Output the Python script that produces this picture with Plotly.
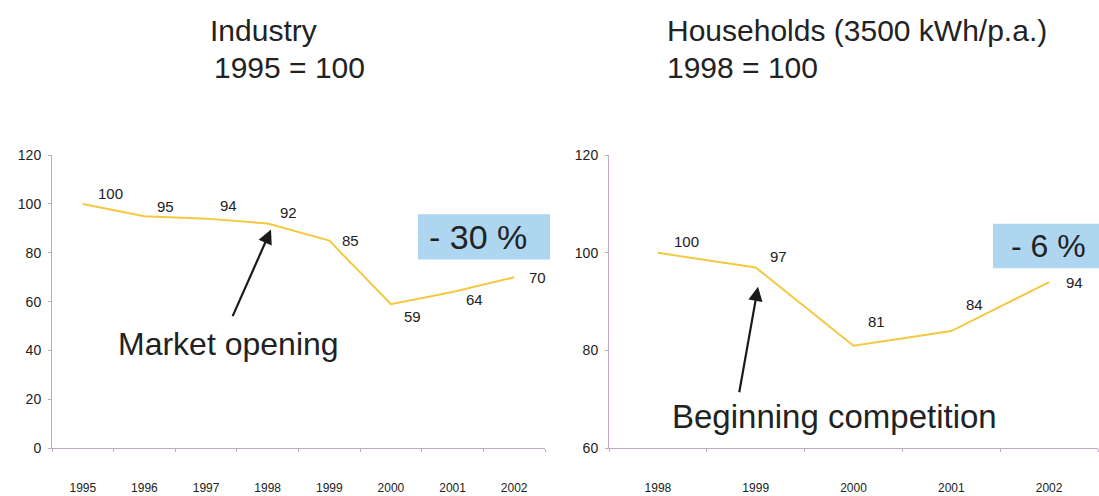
import plotly.graph_objects as go

W, H = 1099, 496

# Industry price index, 1995 = 100
ind_years = ["1995", "1996", "1997", "1998", "1999", "2000", "2001", "2002"]
ind_values = [100, 95, 94, 92, 85, 59, 64, 70]
ind_yticks = [0, 20, 40, 60, 80, 100, 120]

# Household price index (3500 kWh/p.a.), 1998 = 100
hh_years = ["1998", "1999", "2000", "2001", "2002"]
hh_values = [100, 97, 81, 84, 94]
hh_yticks = [60, 80, 100, 120]

# pixel offsets of the value labels relative to their points
ind_label_shift = [(28, 10), (21, 10), (22, 13), (21, 11),
                   (21, 0), (22, -12), (22, -8), (23, 0)]
hh_label_shift = [(29, 11), (23, 11), (23, 24), (23, 27), (25, 0)]

LINE = "#f4c940"
AXIS = "#c4a8c4"
TXT = "#222222"
FONT = "Liberation Sans, Arial, sans-serif"


def px(x):
    return x / W


def py(y):
    return 1 - y / H


fig = go.Figure()

fig.add_trace(go.Scatter(
    x=ind_years, y=ind_values, mode="lines",
    line=dict(color=LINE, width=2), xaxis="x", yaxis="y",
    showlegend=False, hoverinfo="skip"))

fig.add_trace(go.Scatter(
    x=hh_years, y=hh_values, mode="lines",
    line=dict(color=LINE, width=2), xaxis="x2", yaxis="y2",
    showlegend=False, hoverinfo="skip"))

ydom = [py(455), py(152)]

common_x = dict(type="category", showgrid=False, zeroline=False,
                showline=True, linecolor=AXIS, linewidth=1,
                ticks="outside", tickson="boundaries", ticklen=3,
                tickcolor=AXIS, ticklabelstandoff=28,
                tickfont=dict(size=12, color=TXT, family=FONT))
common_y = dict(showgrid=False, zeroline=False, showline=True,
                linecolor=AXIS, linewidth=1, ticks="outside", ticklen=3,
                tickcolor=AXIS, ticklabelstandoff=4,
                tickfont=dict(size=14, color=TXT, family=FONT))

fig.update_layout(
    width=W, height=H,
    margin=dict(l=0, r=0, t=0, b=0),
    paper_bgcolor="white", plot_bgcolor="white",
    font=dict(family=FONT, color=TXT),
    xaxis=dict(common_x, domain=[px(52), px(545)], range=[-0.5, 7.5],
               anchor="y"),
    yaxis=dict(common_y, domain=ydom, range=[0, 120],
               tickvals=ind_yticks, anchor="x"),
    xaxis2=dict(common_x, domain=[px(609), px(1098)], range=[-0.5, 4.5],
                anchor="y2"),
    yaxis2=dict(common_y, domain=ydom, range=[60, 120],
                tickvals=hh_yticks, anchor="x2"),
)

# value labels next to each point (category axes take the serial index)
for ys, shifts, xr, yr in [
        (ind_values, ind_label_shift, "x", "y"),
        (hh_values, hh_label_shift, "x2", "y2")]:
    for i, (yv, (dx, dy)) in enumerate(zip(ys, shifts)):
        fig.add_annotation(x=i, y=yv, xref=xr, yref=yr, text=str(yv),
                           xshift=dx, yshift=dy, showarrow=False,
                           xanchor="center", yanchor="middle",
                           font=dict(size=15, color=TXT, family=FONT))

# highlighted change boxes
fig.add_shape(type="rect", xref="paper", yref="paper",
              x0=px(418), x1=px(550), y0=py(260), y1=py(213),
              fillcolor="#aed6f1", line=dict(width=0), layer="below")
fig.add_shape(type="rect", xref="paper", yref="paper",
              x0=px(993), x1=px(1099), y0=py(269), y1=py(223),
              fillcolor="#aed6f1", line=dict(width=0), layer="below")

annotations = [
    dict(x=px(478), y=py(237), text="- 30 %", xanchor="center", size=34),
    dict(x=px(1048), y=py(246), text="- 6 %", xanchor="center", size=32),
    # panel titles
    dict(x=px(208), y=py(23), text="Industry", xanchor="left", size=30),
    dict(x=px(212), y=py(61), text="1995 = 100", xanchor="left", size=30),
    dict(x=px(665), y=py(23), text="Households (3500 kWh/p.a.)",
         xanchor="left", size=30),
    dict(x=px(665), y=py(61), text="1998 = 100", xanchor="left", size=30),
    # event labels
    dict(x=px(116), y=py(347), text="Market opening", xanchor="left",
         size=32),
    dict(x=px(670), y=py(422), text="Beginning competition",
         xanchor="left", size=33),
]
for a in annotations:
    size = a.pop("size")
    fig.add_annotation(**a, xref="paper", yref="paper", yanchor="middle",
                       showarrow=False,
                       font=dict(size=size, color=TXT, family=FONT))

# arrows pointing at the start of each event
for tip, tail in [((271, 229), (232, 317)), ((758, 288), (739, 395))]:
    fig.add_annotation(x=px(tip[0]), y=py(tip[1]), xref="paper",
                       yref="paper", ax=tail[0] - tip[0],
                       ay=tail[1] - tip[1], axref="pixel", ayref="pixel",
                       showarrow=True, arrowhead=2, arrowsize=1.3,
                       arrowwidth=2.2, arrowcolor="#1a1a1a", text="")

fig.write_html("out.html")
